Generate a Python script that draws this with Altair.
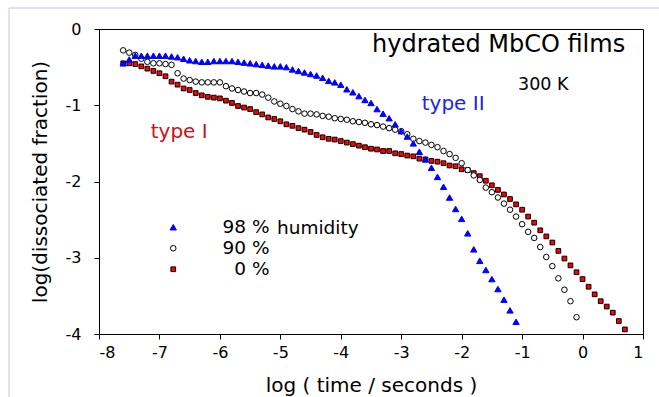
import altair as alt
import pandas as pd

FONT = "DejaVu Sans"

# log(time / s) and log(dissociated fraction) for the three hydration levels
x98 = [-7.6, -7.5, -7.4, -7.3, -7.2, -7.1, -7.0, -6.9, -6.8, -6.7,
       -6.6, -6.5, -6.4, -6.3, -6.2, -6.1, -6.0, -5.9, -5.8, -5.7,
       -5.6, -5.5, -5.4, -5.3, -5.2, -5.1, -5.0, -4.9, -4.8, -4.7,
       -4.6, -4.5, -4.4, -4.3, -4.2, -4.1, -4.0, -3.9, -3.8, -3.7,
       -3.6, -3.5, -3.4, -3.3, -3.2, -3.1, -3.0, -2.9, -2.8, -2.7,
       -2.6, -2.5, -2.4, -2.3, -2.2, -2.1, -2.0, -1.9, -1.8, -1.7,
       -1.6, -1.5, -1.4, -1.3, -1.2, -1.1]
y98 = [-0.45, -0.40, -0.35, -0.35, -0.35, -0.35, -0.35, -0.35, -0.36, -0.37,
       -0.39, -0.41, -0.42, -0.43, -0.43, -0.42, -0.42, -0.42, -0.42, -0.43,
       -0.44, -0.45, -0.46, -0.47, -0.48, -0.49, -0.49, -0.50, -0.53, -0.55,
       -0.57, -0.59, -0.61, -0.64, -0.68, -0.70, -0.73, -0.79, -0.83, -0.88,
       -0.93, -0.97, -1.05, -1.11, -1.17, -1.25, -1.34, -1.41, -1.50, -1.61,
       -1.71, -1.82, -1.94, -2.07, -2.21, -2.36, -2.49, -2.68, -2.89, -3.04,
       -3.16, -3.28, -3.41, -3.55, -3.69, -3.84]

x90 = [-7.6, -7.5, -7.4, -7.3, -7.2, -7.1, -7.0, -6.9, -6.8, -6.7,
       -6.6, -6.5, -6.4, -6.3, -6.2, -6.1, -6.0, -5.9, -5.8, -5.7,
       -5.6, -5.5, -5.4, -5.3, -5.2, -5.1, -5.0, -4.9, -4.8, -4.7,
       -4.6, -4.5, -4.4, -4.3, -4.2, -4.1, -4.0, -3.9, -3.8, -3.7,
       -3.6, -3.5, -3.4, -3.3, -3.2, -3.1, -3.0, -2.9, -2.8, -2.7,
       -2.6, -2.5, -2.4, -2.3, -2.2, -2.1, -2.0, -1.9, -1.8, -1.7,
       -1.6, -1.5, -1.4, -1.3, -1.2, -1.1, -1.0, -0.9, -0.8, -0.7,
       -0.6, -0.5, -0.4, -0.3, -0.2, -0.1]
y90 = [-0.28, -0.31, -0.34, -0.39, -0.43, -0.45, -0.45, -0.46, -0.47, -0.58,
       -0.65, -0.67, -0.69, -0.70, -0.70, -0.70, -0.70, -0.75, -0.78, -0.80,
       -0.82, -0.84, -0.84, -0.86, -0.90, -0.95, -0.98, -1.01, -1.05, -1.08,
       -1.11, -1.11, -1.12, -1.14, -1.15, -1.17, -1.18, -1.19, -1.21, -1.22,
       -1.23, -1.25, -1.26, -1.28, -1.30, -1.32, -1.34, -1.38, -1.44, -1.47,
       -1.49, -1.52, -1.55, -1.60, -1.64, -1.69, -1.76, -1.85, -1.92, -1.98,
       -2.08, -2.14, -2.21, -2.29, -2.37, -2.46, -2.56, -2.66, -2.74, -2.86,
       -2.99, -3.11, -3.27, -3.42, -3.57, -3.78]

x0 = [-7.6, -7.5, -7.4, -7.3, -7.2, -7.1, -7.0, -6.9, -6.8, -6.7,
      -6.6, -6.5, -6.4, -6.3, -6.2, -6.1, -6.0, -5.9, -5.8, -5.7,
      -5.6, -5.5, -5.4, -5.3, -5.2, -5.1, -5.0, -4.9, -4.8, -4.7,
      -4.6, -4.5, -4.4, -4.3, -4.2, -4.1, -4.0, -3.9, -3.8, -3.7,
      -3.6, -3.5, -3.4, -3.3, -3.2, -3.1, -3.0, -2.9, -2.8, -2.7,
      -2.6, -2.5, -2.4, -2.3, -2.2, -2.1, -2.0, -1.9, -1.8, -1.7,
      -1.6, -1.5, -1.4, -1.3, -1.2, -1.1, -1.0, -0.9, -0.8, -0.7,
      -0.6, -0.5, -0.4, -0.3, -0.2, -0.1, 0.0, 0.1, 0.2, 0.3,
      0.4, 0.5, 0.6, 0.7]
y0 = [-0.45, -0.45, -0.46, -0.49, -0.52, -0.55, -0.58, -0.62, -0.69, -0.73,
      -0.78, -0.80, -0.84, -0.87, -0.89, -0.90, -0.91, -0.94, -0.97, -1.01,
      -1.03, -1.05, -1.09, -1.12, -1.16, -1.18, -1.21, -1.25, -1.27, -1.30,
      -1.32, -1.35, -1.39, -1.42, -1.44, -1.45, -1.47, -1.49, -1.51, -1.53,
      -1.55, -1.57, -1.58, -1.60, -1.60, -1.63, -1.64, -1.66, -1.67, -1.70,
      -1.71, -1.73, -1.74, -1.76, -1.79, -1.80, -1.84, -1.85, -1.89, -1.93,
      -1.99, -2.05, -2.11, -2.17, -2.23, -2.30, -2.37, -2.46, -2.54, -2.64,
      -2.72, -2.80, -2.91, -3.01, -3.10, -3.19, -3.28, -3.38, -3.48, -3.57,
      -3.64, -3.72, -3.83, -3.94]

series_labels = ["98 %", "90 %", "0 %"]
x_ticks = [-8, -7, -6, -5, -4, -3, -2, -1, 0, 1]
y_ticks = [-4, -3, -2, -1, 0]

# drawing order: dry film first, 98 % humidity on top
frames = [
    pd.DataFrame({"t": x0, "f": y0, "series": series_labels[2]}),
    pd.DataFrame({"t": x90, "f": y90, "series": series_labels[1]}),
    pd.DataFrame({"t": x98, "f": y98, "series": series_labels[0]}),
]
df = pd.concat(frames, ignore_index=True)

LEGEND_FONT_SIZE = 18.5

# labels are right-aligned so the "%" signs line up in one column
legend = alt.Legend(
    title=None, orient="none", legendX=65, legendY=189, padding=0,
    labelFont=FONT, labelFontSize=LEGEND_FONT_SIZE, labelColor="black",
    labelAlign="right", labelOffset=87,
    rowPadding=2, symbolStrokeWidth=1, labelLimit=400,
)

points = alt.Chart(df).mark_point(filled=True, opacity=1, strokeWidth=1).encode(
    x=alt.X("t:Q",
            scale=alt.Scale(domain=[-8, 1], nice=False, zero=False),
            axis=alt.Axis(values=x_ticks, labelExpr="'' + datum.value",
                          title="log ( time / seconds )", titleY=51,
                          titleBaseline="middle", labelPadding=5)),
    y=alt.Y("f:Q",
            scale=alt.Scale(domain=[-4, 0], nice=False, zero=False),
            axis=alt.Axis(values=y_ticks, labelExpr="'' + datum.value",
                          title="log(dissociated fraction)", titleX=-59,
                          titleY=152.5, titleAngle=270, titleAlign="center",
                          titleBaseline="middle", labelPadding=13)),
    shape=alt.Shape("series:N", legend=legend,
                    scale=alt.Scale(domain=series_labels,
                                    range=["triangle-up", "circle", "square"])),
    fill=alt.Fill("series:N", legend=legend,
                  scale=alt.Scale(domain=series_labels,
                                  range=["#0000ff", "#ffffff", "#ff0000"])),
    stroke=alt.Stroke("series:N", legend=legend,
                      scale=alt.Scale(domain=series_labels,
                                      range=["#0000ff", "#000000", "#000000"])),
    size=alt.Size("series:N", legend=legend,
                  scale=alt.Scale(domain=series_labels, range=[40, 22, 40])),
)

one = pd.DataFrame({"k": [0]})


def note(text, px, py, size, color):
    return alt.Chart(one).mark_text(
        text=text, font=FONT, fontSize=size, color=color,
        align="left", baseline="alphabetic",
    ).encode(x=alt.value(px), y=alt.value(py))


notes = [
    note("hydrated MbCO films", 273, 23, 24, "black"),
    note("300 K", 419, 61, 17.5, "black"),
    note("type II", 322.7, 81, 20, "#2222ee"),
    note("type I", 51.7, 109.3, 20, "#cc1111"),
    # continues the first legend entry: "98 % humidity"
    note("humidity", 178, 204.5, LEGEND_FONT_SIZE, "black"),
]

frame_color = "#c4c4e2"
frame_left = alt.Chart(one).mark_rule(color=frame_color, strokeWidth=1).encode(
    x=alt.value(-90), y=alt.value(-21), y2=alt.value(368))
frame_top = alt.Chart(one).mark_rule(color=frame_color, strokeWidth=1).encode(
    x=alt.value(-90), x2=alt.value(560), y=alt.value(-21))

chart = alt.layer(frame_left, frame_top, points, *notes).properties(
    width=544, height=305,
    autosize=alt.AutoSizeParams(type="none"),
    padding={"left": 99, "top": 29, "right": 16, "bottom": 63},
    background="white",
).configure_view(
    stroke="black", strokeWidth=1,
).configure_axis(
    grid=False, domainColor="black", domainWidth=1, tickColor="black",
    tickSize=5, tickWidth=1, labelFont=FONT, labelFontSize=16,
    labelColor="black", titleFont=FONT, titleFontSize=20,
    titleFontWeight="normal", titleColor="black",
)

chart.save("out.html", embed_options={"renderer": "svg", "actions": False})
